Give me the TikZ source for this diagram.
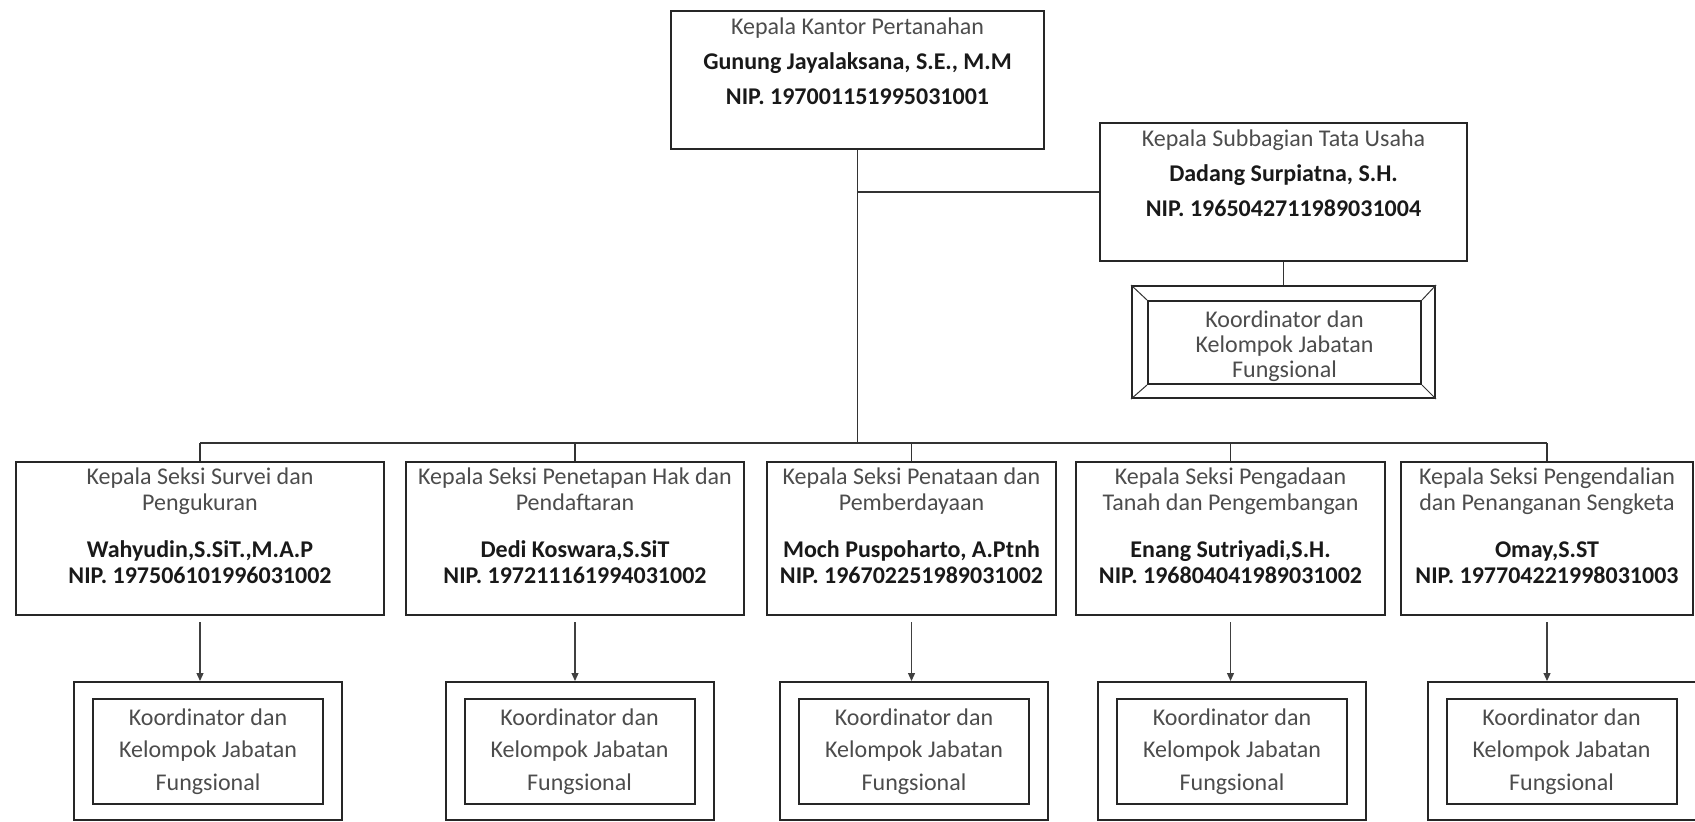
\documentclass[tikz,border=0pt]{standalone}
\usepackage{fontspec}
\setmainfont{Carlito}
\usetikzlibrary{positioning,arrows.meta}
\newcommand{\nama}[1]{{\bfseries\color{black!90}#1}}

\begin{document}
\begin{tikzpicture}[x=0.5pt,y=-0.5pt,
    box/.style={draw=black!85, line width=1pt, inner sep=0pt},
    txt/.style={inner sep=0pt, align=center, text=black!70},
    head/.style={txt, font=\fontsize{12}{17.5}\selectfont},
    sek/.style={txt, font=\fontsize{12}{13}\selectfont},
    fg/.style={box, minimum width=115pt, minimum height=52.5pt, font=\fontsize{12}{16.3}\selectfont, align=center, text=black!70},
    fgout/.style={box, minimum width=134pt, minimum height=69pt},
    line/.style={draw=black!80, line width=0.7pt},
    arr/.style={draw=black!75, line width=0.6pt, -{Triangle[width=3.5pt,length=4pt]}}]
  \useasboundingbox (0,0) rectangle (1695,821);
  %top
  \node[box, minimum width=186.5pt, minimum height=69pt] (kakan) at (857.5,80) {};
  \node[head, below=3.5pt of kakan.north] (kakant) {Kepala Kantor Pertanahan\\ \nama{Gunung Jayalaksana, S.E., M.M}\\ \nama{NIP. 197001151995031001}};
  \node[box, minimum width=183.5pt, minimum height=69pt] (tu) at (1283.5,192) {};
  \node[head, below=3.5pt of tu.north] (tut) {Kepala Subbagian Tata Usaha\\ \nama{Dadang Surpiatna, S.H.}\\ \nama{NIP. 1965042711989031004}};
  %koordinator tu
  \node[box, minimum width=151.5pt, minimum height=56pt] (fgtu) at (1283.5,342) {};
  \node[box, minimum width=136.5pt, minimum height=41.5pt, font=\fontsize{12}{12.5}\selectfont, align=center, text=black!70] (fgtui) at (1284.5,342.5) {};
  \node[txt, font=\fontsize{12}{12.5}\selectfont] (fgtut) at (1284.5,346) {Koordinator dan\\ Kelompok Jabatan\\ Fungsional};
  %seksi
  \node[box, minimum width=184pt, minimum height=76.5pt] (s1) at (200,538.5) {};
  \node[box, minimum width=169pt, minimum height=76.5pt] (s2) at (575,538.5) {};
  \node[box, minimum width=144.5pt, minimum height=76.5pt] (s3) at (911.5,538.5) {};
  \node[box, minimum width=154.5pt, minimum height=76.5pt] (s4) at (1230.5,538.5) {};
  \node[box, minimum width=146pt, minimum height=76.5pt] (s5) at (1547,538.5) {};
  \node[sek, below=3pt of s1.north] (s1t) {Kepala Seksi Survei dan\\ Pengukuran\\[10.5pt] \nama{Wahyudin,S.SiT.,M.A.P}\\ \nama{NIP. 197506101996031002}};
  \node[sek, below=3pt of s2.north] (s2t) {Kepala Seksi Penetapan Hak dan\\ Pendaftaran\\[10.5pt] \nama{Dedi Koswara,S.SiT}\\ \nama{NIP. 197211161994031002}};
  \node[sek, below=3pt of s3.north] (s3t) {Kepala Seksi Penataan dan\\ Pemberdayaan\\[10.5pt] \nama{Moch Puspoharto, A.Ptnh}\\ \nama{NIP. 196702251989031002}};
  \node[sek, below=3pt of s4.north] (s4t) {Kepala Seksi Pengadaan\\ Tanah dan Pengembangan\\[10.5pt] \nama{Enang Sutriyadi,S.H.}\\ \nama{NIP. 196804041989031002}};
  \node[sek, below=3pt of s5.north] (s5t) {Kepala Seksi Pengendalian\\ dan Penanganan Sengketa\\[10.5pt] \nama{Omay,S.ST}\\ \nama{NIP. 197704221998031003}};
  %koordinator seksi
  \foreach \n/\x in {1/208,2/579.5,3/914,4/1232,5/1561.5} {
    \node[fgout] (f\n) at (\x,751) {};
    \node[fg] (f\n i) at (\x,751.5) {Koordinator dan\\ Kelompok Jabatan\\ Fungsional};
  }
  %lines
  \coordinate (bus) at (0,443);
  \draw[line] (kakan.south) -- (kakan.south |- bus);
  \draw[line] (kakan.south |- tu.west) -- (tu.west);
  \draw[line] (tu.south) -- (fgtu.north);
  \draw[line] (s1.north |- bus) -- (s5.north |- bus);
  \foreach \n in {1,...,5} {
    \draw[line] (s\n.north |- bus) -- (s\n.north);
    \draw[arr] ([yshift=-3pt]s\n.south) -- (s\n.south |- f\n.north);
  }
  \foreach \a in {north west,north east,south west,south east}
    \draw[draw=black!80, line width=0.5pt] (fgtu.\a) -- (fgtui.\a);
\end{tikzpicture}
\end{document}
